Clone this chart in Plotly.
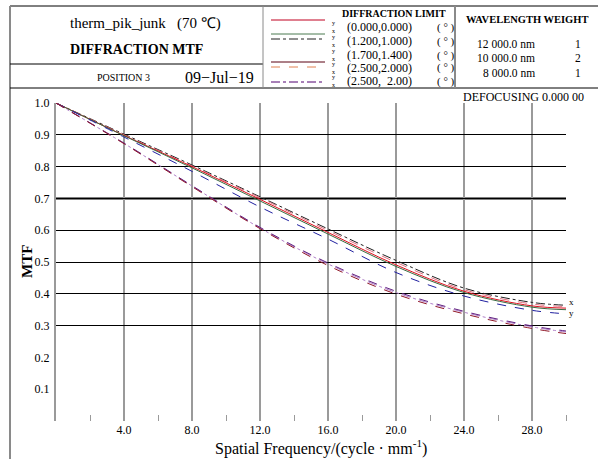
import plotly.graph_objects as go

# ---------------- data ----------------
freq = [0, 4, 8, 12, 16, 20, 24, 28, 30]

mtf_top_dashdot = [1.0, 0.902, 0.805, 0.705, 0.604, 0.505, 0.418, 0.373, 0.364]
mtf_pink = [1.0, 0.900, 0.802, 0.702, 0.599, 0.499, 0.413, 0.368, 0.360]
mtf_diff_limit = [1.0, 0.898, 0.800, 0.697, 0.593, 0.491, 0.408, 0.362, 0.355]
mtf_green = [1.0, 0.897, 0.796, 0.692, 0.588, 0.486, 0.404, 0.358, 0.350]
mtf_blue = [1.0, 0.893, 0.785, 0.673, 0.572, 0.467, 0.393, 0.348, 0.337]
mtf_purple = [1.0, 0.874, 0.740, 0.609, 0.497, 0.408, 0.345, 0.299, 0.283]
mtf_lavender = [1.0, 0.873, 0.739, 0.607, 0.494, 0.404, 0.342, 0.296, 0.280]
mtf_maroon = [1.0, 0.872, 0.737, 0.605, 0.489, 0.399, 0.337, 0.291, 0.275]

x_ticks = [4, 8, 12, 16, 20, 24, 28]
x_tick_labels = ["4.0", "8.0", "12.0", "16.0", "20.0", "24.0", "28.0"]
y_ticks = [0.1, 0.2, 0.3, 0.4, 0.5, 0.6, 0.7, 0.8, 0.9, 1.0]
y_tick_labels = ["0.1", "0.2", "0.3", "0.4", "0.5", "0.6", "0.7", "0.8", "0.9", "1.0"]
y_grid = [0.3, 0.4, 0.5, 0.6, 0.7, 0.8, 0.9, 1.0]

legend_fields = ["DIFFRACTION LIMIT", "(0.000,0.000)", "(1.200,1.000)",
                 "(1.700,1.400)", "(2.500,2.000)", "(2.500,  2.00)"]
wavelengths = ["12 000.0 nm", "10 000.0 nm", "8 000.0 nm"]
weights = ["1", "2", "1"]

# ---------------- layout helpers ----------------
W, H = 598, 459
L, R, T, B = 56, 566, 103, 421
FONT = "Liberation Serif"


def px(x):
    return (x - L) / (R - L)


def py(y):
    return (B - y) / (B - T)


series = [
    (mtf_top_dashdot, "#202020", "dashdot"),
    (mtf_pink, "#e07080", "dash"),
    (mtf_diff_limit, "#e01020", "solid"),
    (mtf_green, "#3a6a40", "solid"),
    (mtf_blue, "#2020a0", "dash"),
    (mtf_lavender, "#b080c8", "dashdot"),
    (mtf_purple, "#602080", "dash"),
    (mtf_maroon, "#901828", "dash"),
]

fig = go.Figure()
for vals, col, dash in series:
    fig.add_trace(go.Scatter(x=freq, y=vals, mode="lines",
                             line=dict(color=col, width=1, dash=dash, shape="spline",
                                       smoothing=1.0),
                             showlegend=False, hoverinfo="skip"))

# invisible trace on the overlay axis so its grid renders
fig.add_trace(go.Scatter(x=[0], y=[0], yaxis="y2", mode="markers",
                         marker=dict(opacity=0), showlegend=False, hoverinfo="skip"))

shapes = []


def line(x0, y0, x1, y1, color="black", width=1, dash="solid"):
    shapes.append(dict(type="line", xref="paper", yref="paper",
                       x0=px(x0), y0=py(y0), x1=px(x1), y1=py(y1),
                       line=dict(color=color, width=width, dash=dash), layer="above"))


# frame
line(10, 6, 598, 6)
line(10, 6, 10, 459, color="#8a8a8a", width=2)
line(10, 88, 598, 88)
line(10, 64, 263, 64)
line(263, 6, 263, 88, color="#8a8a8a", width=1)
line(455, 6, 455, 88, color="#8a8a8a", width=2)

# thicker 0.7 line
shapes.append(dict(type="line", xref="x", yref="y", x0=0, x1=30, y0=0.7, y1=0.7,
                   line=dict(color="black", width=2), layer="below"))

# legend keys
legend_keys = [
    (20, "#c00020", "solid"),
    (34, "#4a7a50", "solid"),
    (39, "#202020", "dashdot"),
    (62, "#5a0010", "solid"),
    (67, "#e08050", "dash"),
    (82, "#500070", "dashdot"),
]
for yy, col, dash in legend_keys:
    line(271, yy, 325, yy, color=col, width=1, dash=dash)

annotations = []


def text(x, y, s, size=11, bold=False, xanchor="center", angle=0, color="black"):
    if bold:
        s = "<b>" + s + "</b>"
    annotations.append(dict(x=px(x), y=py(y), xref="paper", yref="paper", text=s,
                            showarrow=False, xanchor=xanchor, yanchor="middle",
                            textangle=angle,
                            font=dict(family=FONT, size=size, color=color)))


text(145, 23, "therm_pik_junk&nbsp;&nbsp;&nbsp;(70 ℃)", size=15)
text(136, 50, "DIFFRACTION MTF", size=14, bold=True)
text(123, 77, "POSITION 3", size=10)
text(219, 77, "09−Jul−19", size=16)

legend_y = [13, 27, 41, 55, 68, 81]
for i, (s, yy) in enumerate(zip(legend_fields, legend_y)):
    if i == 0:
        text(394, yy, s, size=10, bold=True)
    else:
        text(345, yy, s, size=12, xanchor="left")
        text(446, yy, "( ° )", size=11)
for yy in legend_y[1:]:
    annotations.append(dict(x=px(333), y=py(yy), xref="paper", yref="paper",
                            text="y<br>x", showarrow=False, xanchor="center",
                            yanchor="middle",
                            font=dict(family=FONT, size=6, color="black")))

text(527, 19, "WAVELENGTH WEIGHT", size=10.5, bold=True)
for s, w, yy in zip(wavelengths, weights, [44, 58, 73]):
    text(537, yy, s, size=11.5, xanchor="right")
    text(578, yy, w, size=11.5)

text(586, 97, "DEFOCUSING 0.000 00", size=12, xanchor="right")
text(27, 262, "MTF", size=15, bold=True, angle=-90)
text(321, 447, "Spatial Frequency/(cycle · mm<sup>-1</sup>)", size=16)
text(571, 302, "x", size=9)
text(571, 313, "y", size=9)

fig.update_layout(
    width=W, height=H,
    margin=dict(l=L, r=W - R, t=T, b=H - B, pad=0),
    paper_bgcolor="white", plot_bgcolor="white",
    shapes=shapes, annotations=annotations,
    xaxis=dict(range=[0, 30], tickvals=x_ticks, ticktext=x_tick_labels,
               showgrid=True, gridcolor="#9a9a9a", gridwidth=2,
               zeroline=False, showline=False, ticks="",
               tickfont=dict(family=FONT, size=12, color="black"),
               minor=dict(tickvals=[2, 6, 10, 14, 18, 22, 26, 30], ticks="inside",
                          ticklen=6, tickcolor="#9a9a9a", tickwidth=1, showgrid=False)),
    yaxis=dict(range=[0, 1.0], tickvals=y_ticks, ticktext=y_tick_labels,
               showgrid=False, zeroline=False, showline=True, linecolor="#9a9a9a",
               linewidth=2, ticks="", ticklabelstandoff=2,
               tickfont=dict(family=FONT, size=12, color="black")),
    yaxis2=dict(range=[0, 1.0], overlaying="y", tickvals=y_grid, showticklabels=False,
                showgrid=True, gridcolor="black", gridwidth=1, zeroline=False,
                showline=False, ticks=""),
)

fig.write_html("out.html", config={"displayModeBar": False},
               post_script="document.body.style.margin='0';document.body.style.overflow='hidden';")
